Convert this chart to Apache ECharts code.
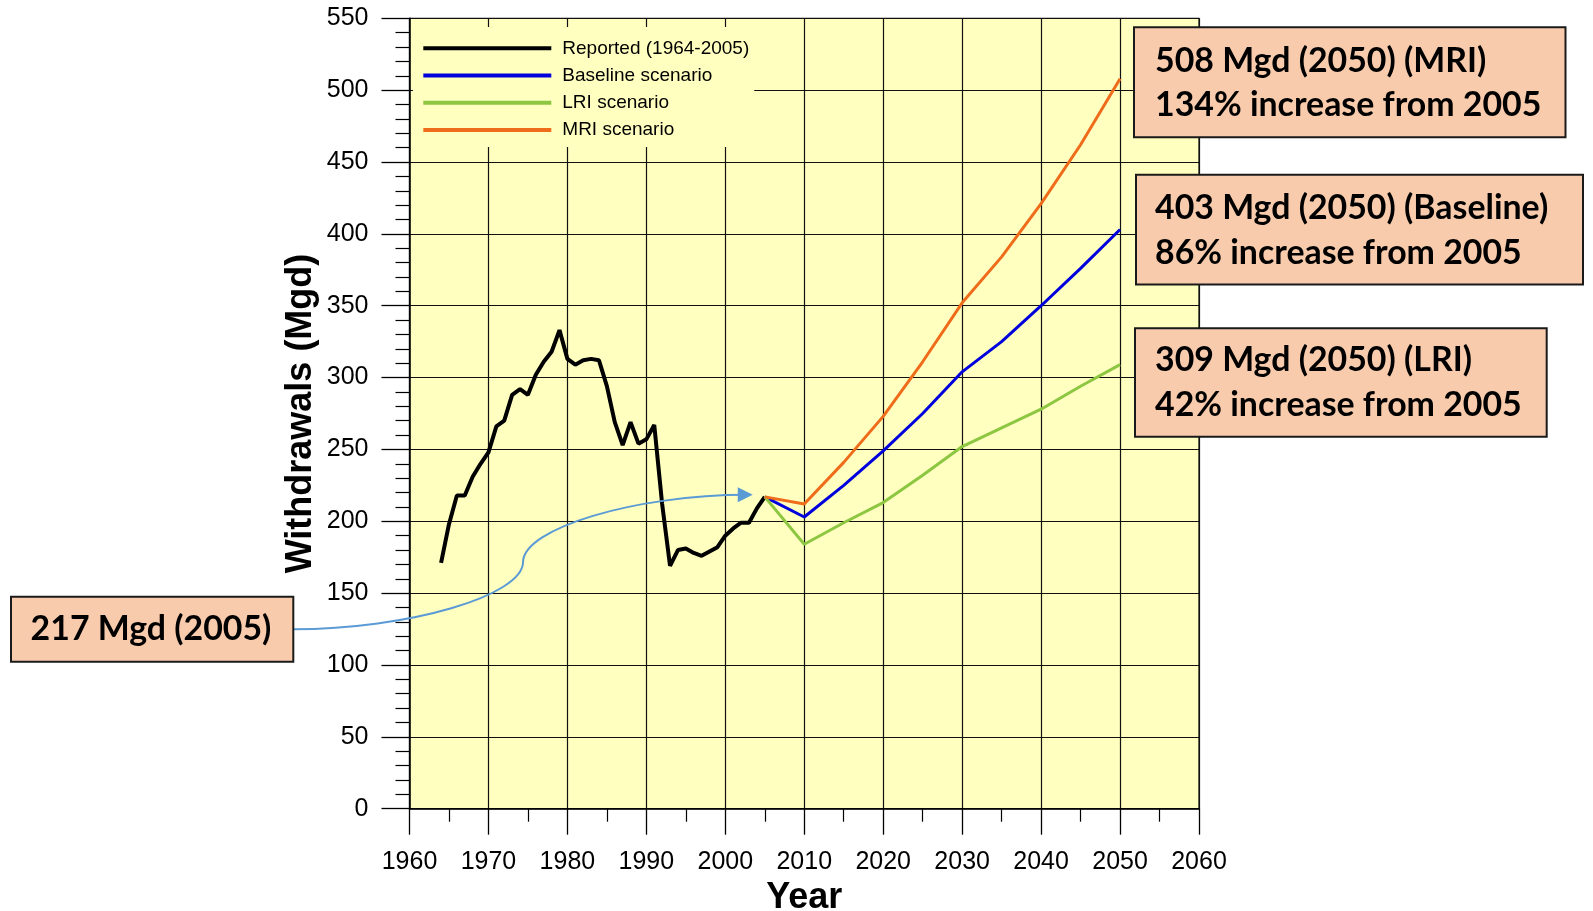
<!DOCTYPE html>
<html><head><meta charset="utf-8">
<script src="https://cdn.jsdelivr.net/npm/echarts@6/dist/echarts.min.js"></script>
<style>html,body{margin:0;padding:0;background:#fff}#c{width:1593px;height:911px}</style>
</head><body><div id="c"></div>
<script>
// ---------- data ----------
const reportedYears = [1964,1965,1966,1967,1968,1969,1970,1971,1972,1973,1974,1975,1976,1977,1978,1979,1980,1981,1982,1983,1984,1985,1986,1987,1988,1989,1990,1991,1992,1993,1994,1995,1996,1997,1998,1999,2000,2001,2002,2003,2004,2005];
const reportedValues = [171,198,218,218,231,240,248,266,270,288,292,288,302,311,318,333,313,309,312,313,312,294,269,253,269,254,257,267,212,169,180,181,178,176,179,182,190,195,199,199,209,217];
const scenarioYears = [2005,2010,2015,2020,2025,2030,2035,2040,2045,2050];
const baselineValues = [217,203,225,249,275,304,325,350,376,403];
const lriValues = [217,184,199,213,232,252,265,278,294,309];
const mriValues = [217,212,241,273,311,352,384,421,462,508];
const seriesNames = ['Reported (1964-2005)','Baseline scenario','LRI scenario','MRI scenario'];
const annotations = {
  mri: ['508 Mgd (2050) (MRI)', '134% increase from 2005'],
  baseline: ['403 Mgd (2050) (Baseline)', '86% increase from 2005'],
  lri: ['309 Mgd (2050) (LRI)', '42% increase from 2005'],
  reported: ['217 Mgd (2005)']
};
const calloutPoint = [2005, 217];

// ---------- chart ----------
const pairs = (xs, ys) => xs.map((x, i) => [x, ys[i]]);
const chart = echarts.init(document.getElementById('c'), null, {renderer: 'canvas'});
const AX = 'Liberation Sans, Arial, sans-serif';
const colors = ['#000000', '#0000DD', '#8DC641', '#EE6C1A'];
const widths = [4, 3, 3, 3];
const datasets = [pairs(reportedYears, reportedValues), pairs(scenarioYears, baselineValues), pairs(scenarioYears, lriValues), pairs(scenarioYears, mriValues)];

chart.setOption({
  animation: false,
  backgroundColor: '#ffffff',
  grid: {left: 409.5, right: 394, top: 18.3, bottom: 102.3, containLabel: false, outerBoundsMode: 'none', show: true, backgroundColor: '#ffffc0', borderColor: '#111', borderWidth: 1.2},
  legend: {
    orient: 'vertical', left: 413, top: 27, padding: [11.8, 5, 7.5, 10.3],
    backgroundColor: '#ffffc0', itemWidth: 128, itemHeight: 4, itemGap: 8.2, icon: 'rect',
    selectedMode: false,
    textStyle: {fontFamily: AX, fontSize: 19, lineHeight: 19, color: '#000', padding: [0, 0, 0, 6]},
    data: seriesNames
  },
  xAxis: {
    type: 'value', min: 1960, max: 2060, interval: 10,
    name: 'Year', nameLocation: 'middle', nameGap: 69,
    nameTextStyle: {fontFamily: AX, fontSize: 36, fontWeight: 'bold', color: '#000'},
    axisLine: {onZero: false, lineStyle: {color: '#000', width: 1.5}},
    axisTick: {length: 26, lineStyle: {color: '#000', width: 1.3}},
    minorTick: {show: true, splitNumber: 2, length: 13, lineStyle: {color: '#000', width: 1.2}},
    axisLabel: {fontFamily: AX, fontSize: 25, color: '#000', margin: 41, formatter: v => String(v)},
    splitLine: {show: true, lineStyle: {color: '#111', width: 1.2}}
  },
  yAxis: {
    type: 'value', min: 0, max: 550, interval: 50,
    name: 'Withdrawals (Mgd)', nameLocation: 'middle', nameGap: 90, nameRotate: 90,
    nameTextStyle: {fontFamily: AX, fontSize: 36, fontWeight: 'bold', color: '#000'},
    axisLine: {lineStyle: {color: '#000', width: 1.5}},
    axisTick: {length: 28, lineStyle: {color: '#000', width: 1.3}},
    minorTick: {show: true, splitNumber: 5, length: 14, lineStyle: {color: '#000', width: 1.2}},
    axisLabel: {fontFamily: AX, fontSize: 25, color: '#000', margin: 41},
    splitLine: {show: true, lineStyle: {color: '#111', width: 1.2}}
  },
  series: seriesNames.map((n, i) => ({
    name: n, type: 'line', data: datasets[i], showSymbol: false, symbol: 'none',
    lineStyle: {color: colors[i], width: widths[i]}, itemStyle: {color: colors[i]},
    z: 2 + i
  }))
});

// ---------- annotations ----------
const BOXFONT = 'Lato, "Open Sans", sans-serif';
const cv = document.createElement('canvas').getContext('2d');
cv.font = 'bold 100px ' + BOXFONT;
const fs = 100 * 366.7 / cv.measureText(annotations.lri[1]).width;
const font = 'bold ' + fs.toFixed(2) + 'px ' + BOXFONT;

function box(x, y, w, h) {
  return {type: 'rect', z: 100, shape: {x, y, width: w, height: h}, style: {fill: '#F8CBAD', stroke: '#1a1a1a', lineWidth: 2}};
}
function txt(s, x, y, align) {
  return {type: 'text', z: 101, x, y, style: {text: s, font, fill: '#000', verticalAlign: 'middle', align: align || 'left'}};
}
const tip = chart.convertToPixel({gridIndex: 0}, calloutPoint);
const T = [tip[0] - 12, tip[1] - 2];
const S = [293.3, 629.3];
const E = [T[0] - 6, T[1]];
const xm = (S[0] + T[0]) / 2, dy = E[1] - S[1];
const blue = '#5B9BD5';

chart.setOption({
  graphic: [
    box(1134, 27.3, 431.5, 110),
    txt(annotations.mri[0], 1155, 61),
    txt(annotations.mri[1], 1155, 105.5),
    box(1136, 174.7, 447, 109.8),
    txt(annotations.baseline[0], 1155, 208.5),
    txt(annotations.baseline[1], 1155, 253),
    box(1135, 328.3, 411.7, 108.4),
    txt(annotations.lri[0], 1155, 360.5),
    txt(annotations.lri[1], 1155, 405),
    box(11, 596.7, 282.3, 65),
    txt(annotations.reported[0], 151, 629.5, 'center'),
    {type: 'bezierCurve', z: 90, shape: {x1: S[0], y1: S[1], cpx1: (S[0] + xm) / 2, cpy1: S[1], cpx2: xm, cpy2: S[1] + dy / 4, x2: xm, y2: S[1] + dy / 2}, style: {stroke: blue, lineWidth: 2, fill: null}},
    {type: 'bezierCurve', z: 90, shape: {x1: xm, y1: S[1] + dy / 2, cpx1: xm, cpy1: S[1] + 3 * dy / 4, cpx2: (xm + E[0]) / 2, cpy2: E[1], x2: E[0], y2: E[1]}, style: {stroke: blue, lineWidth: 2, fill: null}},
    {type: 'polygon', z: 91, shape: {points: [[T[0], T[1]], [T[0] - 15, T[1] - 7.5], [T[0] - 15, T[1] + 7.5]]}, style: {fill: blue}}
  ]
});
</script></body></html>
